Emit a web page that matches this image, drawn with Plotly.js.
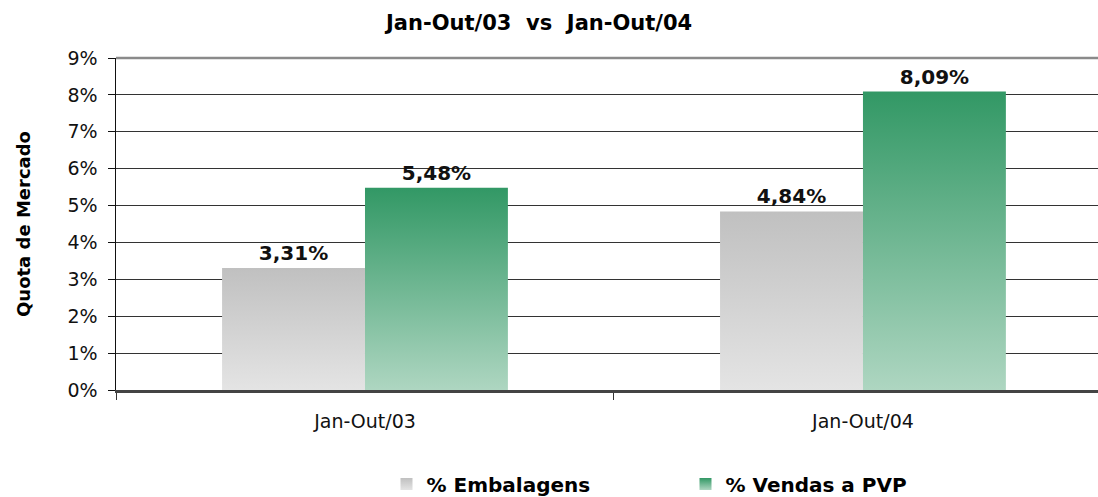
<!DOCTYPE html>
<html>
<head>
<meta charset="utf-8">
<script src="https://cdn.plot.ly/plotly-3.0.1.min.js"></script>
<style>
html,body{margin:0;padding:0;background:#fff;overflow:hidden;}
#chart{width:1098px;height:497px;}
</style>
</head>
<body>
<div id="chart"></div>
<script>
var categories = ["Jan-Out/03", "Jan-Out/04"];
var seriesNames = ["% Embalagens", "% Vendas a PVP"];
var embalagens = [0.0331, 0.0484];
var vendasPVP = [0.0548, 0.0809];
var embalagensLabels = ["3,31%", "4,84%"];
var vendasLabels = ["5,48%", "8,09%"];
var yTickVals = [0, 0.01, 0.02, 0.03, 0.04, 0.05, 0.06, 0.07, 0.08, 0.09];
var yTickText = ["0%", "1%", "2%", "3%", "4%", "5%", "6%", "7%", "8%", "9%"];

var FONT = "Tahoma, 'DejaVu Sans', Verdana, sans-serif";

var traces = [
  {
    type: "bar", name: seriesNames[0], x: categories, y: embalagens,
    text: embalagensLabels, textposition: "outside", cliponaxis: false,
    textfont: {family: FONT, size: 20, color: "#111", weight: "bold"},
    marker: {color: "#cfcfcf", line: {width: 0}},
    hoverinfo: "skip"
  },
  {
    type: "bar", name: seriesNames[1], x: categories, y: vendasPVP,
    text: vendasLabels, textposition: "outside", cliponaxis: false,
    textfont: {family: FONT, size: 20, color: "#111", weight: "bold"},
    marker: {color: "#6fb58f", line: {width: 0}},
    hoverinfo: "skip"
  }
];

var layout = {
  width: 1098, height: 497,
  paper_bgcolor: "#fff", plot_bgcolor: "#fff",
  margin: {l: 116, r: 0, t: 58, b: 107, autoexpand: false},
  font: {family: FONT, color: "#000"},
  title: {
    text: "<b>Jan-Out/03  vs  Jan-Out/04</b>",
    font: {family: FONT, size: 21, color: "#000"},
    x: 0.491, xanchor: "center", y: 0.955, yanchor: "middle"
  },
  barmode: "group",
  bargap: 0.426, bargroupgap: 0,
  xaxis: {
    type: "category",
    range: [-0.5, 1.472],
    showgrid: false,
    showline: true, linecolor: "#444", linewidth: 3,
    ticks: "outside", tickson: "boundaries", ticklen: 7, tickcolor: "#333", tickwidth: 1,
    ticklabelstandoff: 12,
    tickfont: {family: FONT, size: 19, color: "#111"},
    zeroline: false, automargin: false,
    fixedrange: true
  },
  yaxis: {
    range: [0, 0.09],
    tickvals: yTickVals, ticktext: yTickText,
    showgrid: true, gridcolor: "#333", gridwidth: 1,
    showline: true, linecolor: "#111", linewidth: 1.5,
    ticks: "outside", ticklen: 7, tickcolor: "#111",
    ticklabelstandoff: 6,
    tickfont: {family: FONT, size: 19, color: "#111"},
    zeroline: false, automargin: false,
    title: {text: "<b>Quota de Mercado</b>", font: {family: FONT, size: 18, color: "#000"}, standoff: 32},
    fixedrange: true
  },
  shapes: [
    {type: "line", xref: "paper", yref: "paper", x0: 0, x1: 1, y0: 1, y1: 1,
     line: {color: "#8a8a8a", width: 2.5}, layer: "above"}
  ],
  showlegend: true,
  legend: {
    orientation: "h", xref: "container", yref: "container",
    x: 0.352, xanchor: "left", y: 0.026, yanchor: "middle",
    font: {family: FONT, size: 20, color: "#000", weight: "bold"},
    itemwidth: 30, traceorder: "normal", entrywidth: 254
  }
};

Plotly.newPlot("chart", traces, layout, {displayModeBar: false, staticPlot: true}).then(function (gd) {
  var svg = gd.querySelector("svg.main-svg");
  var ns = "http://www.w3.org/2000/svg";
  var defs = svg.querySelector("defs") || svg.insertBefore(document.createElementNS(ns, "defs"), svg.firstChild);
  function grad(id, top, bottom) {
    var g = document.createElementNS(ns, "linearGradient");
    g.setAttribute("id", id);
    g.setAttribute("x1", "0"); g.setAttribute("y1", "0");
    g.setAttribute("x2", "0"); g.setAttribute("y2", "1");
    var s1 = document.createElementNS(ns, "stop");
    s1.setAttribute("offset", "0"); s1.setAttribute("stop-color", top);
    var s2 = document.createElementNS(ns, "stop");
    s2.setAttribute("offset", "1"); s2.setAttribute("stop-color", bottom);
    g.appendChild(s1); g.appendChild(s2);
    defs.appendChild(g);
  }
  grad("gGray", "#c0c0c0", "#e4e4e4");
  grad("gGreen", "#329865", "#aed6c1");
  var fills = ["url(#gGray)", "url(#gGreen)"];
  gd.querySelectorAll(".barlayer .trace").forEach(function (t, i) {
    t.querySelectorAll(".point path").forEach(function (p) { p.style.fill = fills[i]; });
  });
  gd.querySelectorAll(".legend .traces").forEach(function (t, i) {
    t.querySelectorAll(".legendpoints path").forEach(function (p) { p.style.fill = fills[i]; });
  });
});
</script>
</body>
</html>
